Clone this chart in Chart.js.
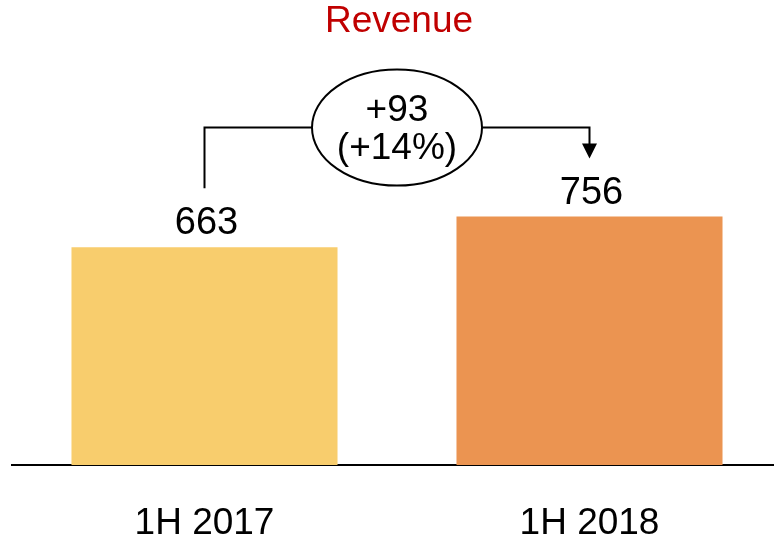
<!DOCTYPE html>
<html>
<head>
<meta charset="utf-8">
<script src="https://cdn.jsdelivr.net/npm/chart.js@4"></script>
<style>
  html, body { margin: 0; padding: 0; background: #fff; overflow: hidden; }
  #wrap { width: 782px; height: 542px; }
</style>
</head>
<body>
<div id="wrap"><canvas id="revenue"></canvas></div>
<script>
// Data
const periods = ["1H 2017", "1H 2018"];
const revenue = [663, 756];
const barColors = ["#F8CD6D", "#EB9451"];
const chartTitle = "Revenue";
const deltaText = ["+93", "(+14%)"];

const font = "'Liberation Sans', Arial, sans-serif";

// Titel, waarden boven de balken en de pijl met ellips
const annotations = {
    id: "annotations",
    afterDatasetsDraw(chart) {
        const ctx = chart.ctx;
        const meta = chart.getDatasetMeta(0);
        const x0 = meta.data[0].x;
        const x1 = meta.data[1].x;
        const top0 = meta.data[0].y;
        const top1 = meta.data[1].y;
        const midX = (x0 + x1) / 2;

        ctx.save();

        // titel
        ctx.fillStyle = "#C00000";
        ctx.font = "37px " + font;
        ctx.textAlign = "center";
        ctx.textBaseline = "alphabetic";
        ctx.fillText(chartTitle, midX + 2, 32);

        // waarden
        ctx.fillStyle = "#000";
        ctx.font = "38px " + font;
        meta.data.forEach((bar, i) => {
            ctx.fillText(String(revenue[i]), bar.x + 2, bar.y - 13);
        });

        // bracket
        const levelY = top1 - 89;
        const cy = levelY;
        const rx = 85, ry = 58;
        ctx.strokeStyle = "#000";
        ctx.lineWidth = 2;
        ctx.beginPath();
        ctx.moveTo(x0, top0 - 59);
        ctx.lineTo(x0, levelY);
        ctx.lineTo(midX - rx, levelY);
        ctx.moveTo(midX + rx, levelY);
        ctx.lineTo(x1, levelY);
        ctx.lineTo(x1, top1 - 72);
        ctx.stroke();

        // pijlpunt
        ctx.fillStyle = "#000";
        ctx.beginPath();
        ctx.moveTo(x1 - 7.5, top1 - 73);
        ctx.lineTo(x1 + 7.5, top1 - 73);
        ctx.lineTo(x1, top1 - 58);
        ctx.closePath();
        ctx.fill();

        // ellips
        ctx.beginPath();
        ctx.ellipse(midX, cy, rx, ry, 0, 0, Math.PI * 2);
        ctx.fillStyle = "#fff";
        ctx.fill();
        ctx.stroke();

        ctx.fillStyle = "#000";
        ctx.font = "37px " + font;
        ctx.fillText(deltaText[0], midX, cy - 6.5);
        ctx.fillText(deltaText[1], midX, cy + 31);

        ctx.restore();
    }
};

new Chart(document.getElementById("revenue"), {
    type: "bar",
    data: {
        labels: periods,
        datasets: [
            {
                data: revenue,
                backgroundColor: barColors,
                borderWidth: 0,
                barPercentage: 0.691,
                categoryPercentage: 1
            }
        ]
    },
    options: {
        responsive: true,
        maintainAspectRatio: false,
        animation: false,
        layout: {
            padding: { top: 5, left: 12, right: 0, bottom: 0 }
        },
        plugins: {
            legend: { display: false },
            tooltip: { enabled: false },
            title: { display: false }
        },
        scales: {
            x: {
                grid: { display: false, drawTicks: false, tickLength: 0 },
                border: { display: true, color: "#000", width: 2 },
                ticks: {
                    color: "#000",
                    padding: 40,
                    font: { family: font, size: 37, lineHeight: 1 }
                },
                afterFit: (scale) => { scale.height = 77; }
            },
            y: {
                display: false,
                min: 0,
                max: 1400
            }
        }
    },
    plugins: [annotations]
});
</script>
</body>
</html>
